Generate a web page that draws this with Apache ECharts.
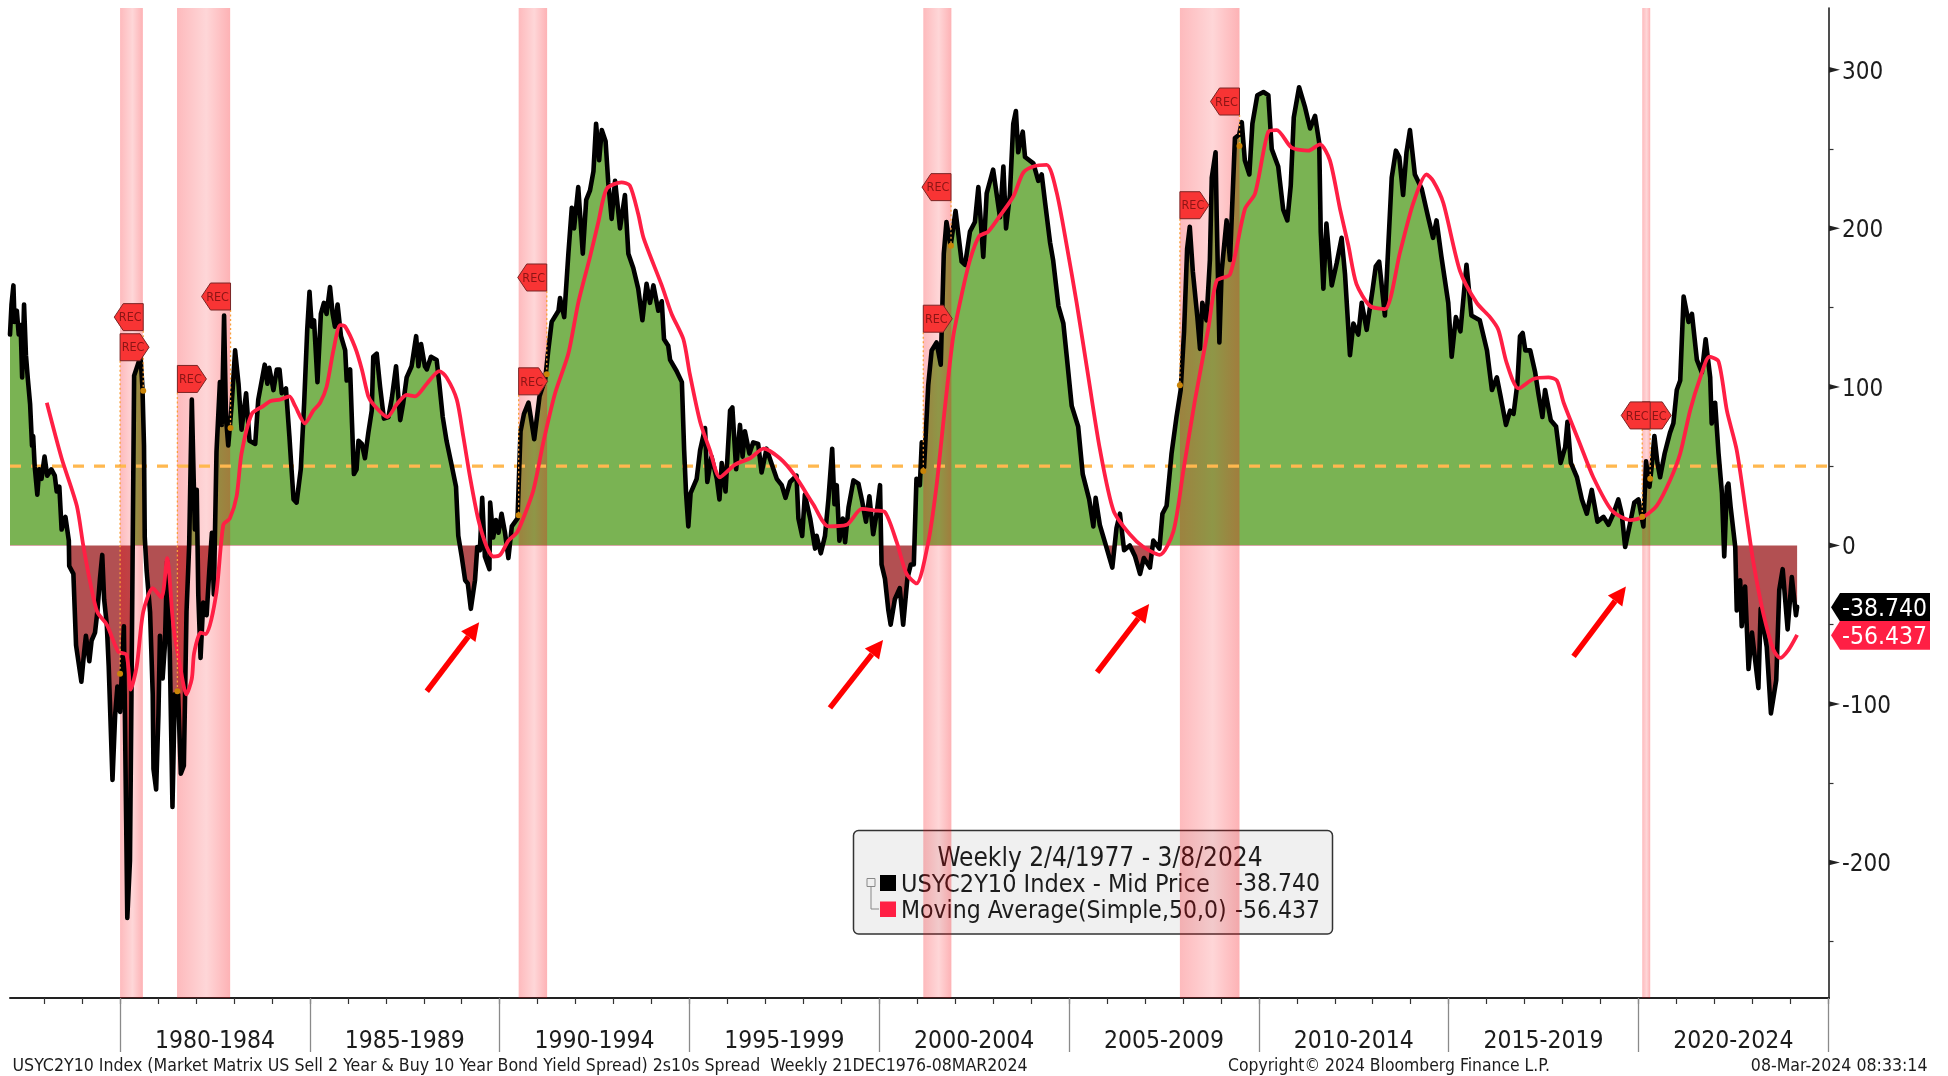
<!DOCTYPE html>
<html><head><meta charset="utf-8">
<style>html,body{margin:0;padding:0;background:#fff}#c{width:1948px;height:1076px}</style>
<script src="https://cdn.jsdelivr.net/npm/echarts@6/dist/echarts.min.js"></script>
</head><body><div id="c"></div>
<script>
const FONT='"DejaVu Sans Condensed","DejaVu Sans",sans-serif';
// [year, bp]
const spreadPoints=[[1977.10,133],[1977.14,152],[1977.19,164],[1977.22,141],[1977.28,148],[1977.33,133],[1977.38,139],[1977.42,106],[1977.47,152],[1977.52,120],[1977.57,105],[1977.63,89],[1977.68,63],[1977.71,69],[1977.75,50],[1977.82,32],[1977.87,48],[1977.93,42],[1978.01,56],[1978.08,44],[1978.19,48],[1978.28,44],[1978.33,34],[1978.40,37],[1978.46,10],[1978.56,18],[1978.65,3],[1978.66,-13],[1978.77,-18],[1978.84,-63],[1978.98,-86],[1979.05,-68],[1979.10,-57],[1979.19,-73],[1979.25,-60],[1979.34,-55],[1979.40,-42],[1979.47,-21],[1979.53,-6],[1979.58,-34],[1979.65,-50],[1979.70,-76],[1979.80,-148],[1979.87,-107],[1979.93,-89],[1980.00,-105],[1980.05,-106],[1980.10,-51],[1980.16,-173],[1980.19,-235],[1980.26,-199],[1980.30,-94],[1980.37,107],[1980.48,115],[1980.54,119],[1980.59,99],[1980.63,63],[1980.65,5],[1980.70,-16],[1980.79,-42],[1980.86,-94],[1980.88,-141],[1980.95,-154],[1981.01,-107],[1981.05,-57],[1981.12,-84],[1981.18,-63],[1981.24,-10],[1981.31,-68],[1981.38,-165],[1981.44,-94],[1981.53,-94],[1981.60,-144],[1981.68,-139],[1981.75,-42],[1981.82,0],[1981.89,92],[1981.93,93],[1981.97,10],[1982.02,35],[1982.06,-31],[1982.12,-71],[1982.19,-36],[1982.28,-44],[1982.35,-16],[1982.42,8],[1982.47,-31],[1982.54,59],[1982.63,103],[1982.68,76],[1982.74,145],[1982.79,81],[1982.85,63],[1982.94,89],
[1983.03,123],[1983.12,102],[1983.20,73],[1983.32,96],[1983.41,66],[1983.56,64],[1983.64,92],[1983.81,114],[1983.88,102],[1983.93,112],[1984.04,98],[1984.13,111],[1984.20,111],[1984.26,96],[1984.37,99],[1984.46,69],[1984.50,54],[1984.57,29],[1984.65,27],[1984.76,48],[1984.85,90],[1984.93,136],[1984.99,160],[1985.05,138],[1985.11,142],[1985.20,103],[1985.29,146],[1985.37,153],[1985.44,146],[1985.53,163],[1985.60,146],[1985.66,138],[1985.73,152],[1985.82,132],[1985.93,123],[1985.97,104],[1986.06,111],[1986.11,77],[1986.16,45],[1986.23,48],[1986.28,66],[1986.37,64],[1986.45,55],[1986.54,71],[1986.63,85],[1986.67,119],[1986.76,121],[1986.85,100],[1986.95,80],[1987.07,81],[1987.16,93],[1987.27,113],[1987.38,79],[1987.46,90],[1987.55,106],[1987.68,113],[1987.80,132],[1987.86,113],[1987.93,127],[1988.03,113],[1988.08,111],[1988.19,119],[1988.34,117],[1988.41,102],[1988.50,81],[1988.60,66],[1988.74,50],[1988.85,37],[1988.91,6],[1989.00,-7],[1989.09,-22],[1989.16,-24],[1989.24,-40],[1989.35,-22],[1989.41,-1],[1989.48,-3],[1989.54,30],[1989.61,-7],[1989.73,-15],[1989.75,27],[1989.83,5],[1989.90,16],[1989.97,8],[1990.05,20],[1990.14,8],[1990.23,-8],[1990.32,12],[1990.47,17],
[1990.55,72],[1990.64,83],[1990.76,90],[1990.91,67],[1991.05,94],[1991.20,105],[1991.28,123],[1991.37,141],[1991.55,148],[1991.59,156],[1991.70,144],[1991.81,184],[1991.90,213],[1991.96,200],[1992.07,226],[1992.19,184],[1992.28,218],[1992.38,224],[1992.47,236],[1992.54,266],[1992.62,243],[1992.69,262],[1992.79,255],[1992.86,229],[1992.95,206],[1993.04,230],[1993.17,200],[1993.30,221],[1993.39,184],[1993.52,175],[1993.65,162],[1993.76,142],[1993.87,165],[1993.96,153],[1994.05,164],[1994.18,148],[1994.27,154],[1994.33,130],[1994.44,126],[1994.49,117],[1994.66,110],[1994.80,103],[1994.86,60],[1994.91,33],[1994.97,12],[1995.03,33],[1995.19,42],[1995.28,60],[1995.41,74],[1995.47,40],[1995.58,56],[1995.72,42],[1995.79,29],[1995.85,52],[1995.95,34],[1996.07,85],[1996.13,87],[1996.23,48],[1996.33,76],[1996.40,56],[1996.46,72],[1996.58,58],[1996.68,65],[1996.81,64],[1996.90,46],[1997.03,61],[1997.17,51],[1997.30,42],[1997.43,38],[1997.53,30],[1997.65,40],[1997.82,44],[1997.87,17],[1997.97,6],[1998.04,32],[1998.18,17],[1998.31,-2],[1998.35,6],[1998.46,-5],[1998.57,6],[1998.66,29],[1998.76,61],[1998.82,26],[1998.88,38],[1998.95,3],[1999.04,17],[1999.10,2],[1999.19,24],[1999.32,41],[1999.45,39],[1999.54,29],[1999.65,15],[1999.74,31],[1999.84,7],[1999.93,20],[2000.02,38],[2000.06,-12],[2000.15,-21],[2000.24,-41],[2000.30,-50],[2000.41,-34],[2000.54,-27],[2000.63,-50],[2000.74,-21],[2000.83,-12],[2000.91,-12],[2000.98,42],[2001.07,38],[2001.12,65],[2001.18,49],[2001.29,101],[2001.38,123],[2001.51,128],[2001.62,114],[2001.70,184],[2001.77,204],[2001.88,189],[2002.01,211],[2002.17,179],[2002.26,177],[2002.39,198],[2002.52,204],[2002.61,226],[2002.74,182],[2002.83,222],[2003.00,237],
[2003.18,207],[2003.27,239],[2003.34,200],[2003.44,221],[2003.53,266],[2003.60,274],[2003.66,248],[2003.78,261],[2003.84,245],[2004.06,241],[2004.19,230],[2004.28,234],[2004.37,216],[2004.50,191],[2004.58,180],[2004.72,151],[2004.85,140],[2004.94,119],[2005.07,88],[2005.24,75],[2005.36,45],[2005.53,29],[2005.64,12],[2005.70,30],[2005.81,13],[2005.97,0],[2006.14,-14],[2006.25,11],[2006.34,20],[2006.45,-3],[2006.60,0],[2006.74,-7],[2006.87,-18],[2006.97,-8],[2007.13,-14],[2007.22,3],[2007.38,-2],[2007.46,20],[2007.57,25],[2007.70,58],[2007.83,81],[2007.94,98],[2008.03,135],[2008.11,187],[2008.18,201],[2008.26,173],[2008.38,144],[2008.45,124],[2008.51,153],[2008.62,142],[2008.71,180],[2008.76,232],[2008.86,248],[2008.89,207],[2008.96,128],[2009.02,173],[2009.15,205],[2009.24,180],[2009.37,257],[2009.48,259],[2009.55,267],[2009.63,243],[2009.75,234],[2009.83,266],[2009.96,284],[2010.12,286],[2010.25,284],[2010.34,250],[2010.51,239],[2010.64,212],[2010.75,205],[2010.84,227],[2010.92,270],[2011.06,289],[2011.21,277],[2011.35,263],[2011.48,271],[2011.59,254],[2011.63,198],[2011.70,162],[2011.78,203],[2011.92,164],[2012.05,178],[2012.18,194],[2012.27,171],[2012.40,120],[2012.49,140],[2012.62,133],[2012.71,153],[2012.84,136],[2013.00,162],[2013.08,176],[2013.17,179],[2013.32,145],[2013.41,189],[2013.50,232],[2013.61,249],[2013.70,245],[2013.80,221],[2013.89,248],[2013.98,262],[2014.11,234],[2014.29,225],[2014.46,207],[2014.59,194],[2014.68,205],[2014.81,182],[2014.99,153],[2015.08,119],[2015.19,144],[2015.31,135],[2015.47,177],[2015.60,145],[2015.82,142],
[2016.01,123],[2016.14,98],[2016.27,106],[2016.36,95],[2016.51,76],[2016.62,85],[2016.71,83],[2016.81,102],[2016.88,132],[2016.95,134],[2017.02,123],[2017.15,123],[2017.28,109],[2017.37,95],[2017.47,81],[2017.54,98],[2017.69,79],[2017.83,75],[2017.95,52],[2018.07,62],[2018.13,78],[2018.22,52],[2018.38,43],[2018.51,29],[2018.64,20],[2018.77,35],[2018.92,15],[2019.08,18],[2019.21,13],[2019.34,20],[2019.47,29],[2019.56,20],[2019.65,-1],[2019.78,14],[2019.89,27],[2020.00,29],[2020.13,12],[2020.20,53],[2020.29,37],[2020.35,50],[2020.42,69],[2020.50,52],[2020.57,43],[2020.69,58],[2020.83,71],[2020.92,77],[2021.01,98],[2021.10,104],[2021.19,157],[2021.32,141],[2021.41,146],[2021.54,117],[2021.67,109],[2021.77,130],[2021.89,106],[2021.93,77],[2022.02,90],[2022.11,58],[2022.20,33],[2022.26,-7],[2022.33,37],[2022.37,39],[2022.43,24],[2022.55,-1],[2022.59,-41],[2022.68,-22],[2022.72,-51],[2022.81,-26],[2022.90,-78],[2022.99,-55],[2023.16,-90],[2023.22,-40],[2023.38,-64],[2023.49,-106],[2023.63,-85],[2023.71,-28],[2023.80,-15],[2023.93,-53],[2024.04,-20],[2024.15,-44],[2024.18,-38.74]];
const movingAverage=[[1978.07,90],[1978.46,55],[1978.86,25],[1979.03,0],[1979.21,-23],[1979.40,-42],[1979.65,-50],[1979.95,-67],[1980.17,-69],[1980.28,-91],[1980.44,-76],[1980.61,-42],[1980.86,-27],[1981.09,-33],[1981.24,-8],[1981.40,-50],[1981.58,-76],[1981.75,-94],[1981.89,-84],[1981.95,-68],[1982.12,-55],[1982.26,-56],[1982.53,-31],[1982.72,13],[1982.89,17],[1983.07,31],[1983.20,58],[1983.47,83],[1983.78,88],[1983.95,91],[1984.21,92],[1984.46,94],[1984.61,88],[1984.87,77],[1985.09,85],[1985.27,90],[1985.44,100],[1985.62,123],[1985.80,139],[1985.93,138],[1986.19,125],[1986.37,111],[1986.54,94],[1986.67,89],[1987.04,81],[1987.29,89],[1987.55,95],[1987.77,94],[1988.08,102],[1988.41,110],[1988.60,106],[1988.87,92],[1989.04,69],[1989.22,43],[1989.44,16],[1989.66,-1],[1989.83,-7],[1990.01,-6],[1990.23,3],[1990.45,8],[1990.62,17],[1990.89,35],[1991.15,65],[1991.46,96],[1991.81,121],[1992.07,153],[1992.38,182],[1992.60,204],[1992.82,225],[1993.21,229],[1993.43,227],[1993.65,209],[1993.79,194],[1994.27,164],[1994.53,146],[1994.84,130],[1995.01,108],[1995.28,78],[1995.54,60],[1995.80,43],[1996.20,51],[1996.60,55],[1996.95,61],[1997.38,55],[1997.78,44],[1998.26,26],[1998.66,12],[1999.14,13],[1999.54,23],[1999.89,22],[2000.15,21],[2000.46,2],[2000.72,-18],[2000.98,-24],[2001.29,2],[2001.51,38],[2001.73,87],[2001.95,132],[2002.17,158],[2002.39,180],[2002.63,195],[2002.87,198],[2003.18,208],[2003.53,220],[2003.79,235],[2004.06,239],[2004.41,240],[2004.67,223],[2004.94,189],[2005.20,153],[2005.51,106],[2005.81,61],[2006.17,22],[2006.60,7],[2006.96,-1],[2007.39,-6],[2007.75,9],[2008.01,47],[2008.32,92],[2008.67,137],[2008.89,167],[2009.24,171],[2009.63,212],[2009.90,222],[2010.25,261],[2010.47,262],[2010.86,251],[2011.30,249],[2011.61,253],[2011.87,243],[2012.14,212],[2012.36,189],[2012.57,165],[2012.93,151],[2013.32,149],[2013.72,185],[2014.07,216],[2014.42,234],[2014.59,230],[2014.86,216],[2015.30,173],[2015.74,153],[2016.09,144],[2016.31,136],[2016.53,115],[2016.84,99],[2017.23,105],[2017.63,106],[2017.85,104],[2018.03,90],[2018.46,64],[2018.81,43],[2019.30,22],[2019.78,16],[2020.13,18],[2020.48,25],[2020.83,41],[2021.10,58],[2021.36,85],[2021.63,106],[2021.87,119],[2022.11,116],[2022.33,85],[2022.59,60],[2022.85,18],[2023.03,-11],[2023.29,-43],[2023.56,-66],[2023.73,-71],[2023.95,-66],[2024.18,-56.437]];
const recessions=[[1980.0,1980.6],[1981.5,1982.9],[1990.5,1991.25],[2001.16,2001.9],[2007.92,2009.49],[2020.1,2020.31]];
// [year, flag level, point on the line, direction (-1 left, 1 right)]
const recFlags=[[1980.61,144,97.5,-1],[1980.0,125,-81,1],[1981.51,105,-92,1],[1982.91,157,74,-1],[1991.24,169,108,-1],[1990.5,103.5,19,1],[2001.89,226,189,-1],[2001.16,143,47,1],[2009.49,280,252,-1],[2007.92,214.6,101,1],[2020.1,82,18,1],[2020.31,82,42,-1]];
// [tail year, tail level, tip year, tip level]
const arrows=[[1988.08,-92,1989.46,-48.5],[1998.70,-102.5,2000.10,-59.6],[2005.74,-80,2007.11,-37],[2018.29,-70,2019.67,-26]];
const yearTicks=[1978,1979,1980,1981,1982,1983,1984,1985,1986,1987,1988,1989,1990,1991,1992,1993,1994,1995,1996,1997,1998,1999,2000,2001,2002,2003,2004,2005,2006,2007,2008,2009,2010,2011,2012,2013,2014,2015,2016,2017,2018,2019,2020,2021,2022,2023,2024,2025];
const periodTicks=[1980,1985,1990,1995,2000,2005,2010,2015,2020,2025];
const periodLabels=['1980-1984','1985-1989','1990-1994','1995-1999','2000-2004','2005-2009','2010-2014','2015-2019','2020-2024'];
const yLabels=[300,200,100,0,-100,-200];
const yMinor=[250,150,50,-50,-150,-250];
const refLevel=50;
const lastValues=[[-38.74,'-38.740','#000000'],[-56.437,'-56.437','#FF1F44']];
const XMIN=1977.1,XMAX=2025.02,YMIN=-285.5,YMAX=339;

const vals=spreadPoints.map(p=>p[1]);
const hi=Math.max(...vals),lo=Math.min(...vals),cut=hi/(hi-lo);
const GREEN='#7AB353',BROWN='#B25052';
const chart=echarts.init(document.getElementById('c'),null,{renderer:'canvas'});
const xCommon={type:'value',min:XMIN,max:XMAX,position:'bottom',splitLine:{show:false}};
const txt=(x,y,t,size,extra)=>({type:'text',x,y,silent:true,style:Object.assign({text:t,fill:'#1c1c1c',font:size+'px '+FONT,verticalAlign:'middle',align:'left'},extra||{})});
chart.setOption({
 animation:false,backgroundColor:'#fff',tooltip:{show:false},
 grid:{left:10,right:119,top:8,bottom:78,containLabel:false},
 xAxis:[
  Object.assign({},xCommon,{axisLine:{show:true,onZero:false,lineStyle:{color:'#222',width:2}},axisLabel:{show:false},axisTick:{show:true,length:6,customValues:yearTicks,lineStyle:{color:'#333',width:1.2}}}),
  Object.assign({},xCommon,{axisLine:{show:false,onZero:false},axisLabel:{show:false},axisTick:{show:true,length:54,customValues:periodTicks,lineStyle:{color:'#8a8a8a',width:1.3}}}),
  Object.assign({},xCommon,{axisLine:{show:false,onZero:false},axisTick:{show:false},axisLabel:{show:true,margin:31,color:'#1c1c1c',fontFamily:FONT,fontSize:24.5,customValues:periodTicks.slice(0,-1).map(y=>y+2.5),
    formatter:v=>periodLabels[Math.round((v-1982.5)/5)]}})
 ],
 yAxis:{type:'value',min:YMIN,max:YMAX,position:'right',splitLine:{show:false},
  axisLine:{show:true,lineStyle:{color:'#222',width:1.6}},
  axisTick:{show:true,length:4.5,customValues:yMinor,lineStyle:{color:'#333',width:1.2}},
  axisLabel:{show:true,margin:13,color:'#1c1c1c',customValues:yLabels,formatter:v=>'{a|'+Math.round(v)+'}',
   rich:{a:{fontFamily:FONT,fontSize:24,color:'#1c1c1c',padding:[5,0,0,0]}}}},
 graphic:[
  {type:'rect',z:0,silent:true,shape:{x:853.5,y:830.5,width:479,height:103.5,r:5},style:{fill:'#F0F0F0',stroke:'#333',lineWidth:1.5}},
  {type:'group',z:100,silent:true,children:[
   txt(1100,859,'Weekly 2/4/1977 - 3/8/2024',26,{align:'center'}),
   {type:'rect',shape:{x:880,y:875,width:16,height:16},style:{fill:'#000'}},
   {type:'rect',shape:{x:880,y:901.5,width:16,height:15.5},style:{fill:'#FF1F44'}},
   {type:'rect',shape:{x:867,y:878.5,width:8,height:8},style:{fill:'#F0F0F0',stroke:'#888',lineWidth:1}},
   {type:'line',shape:{x1:871,y1:887,x2:871,y2:909},style:{stroke:'#888',lineWidth:1}},
   {type:'line',shape:{x1:871,y1:909,x2:879,y2:909},style:{stroke:'#888',lineWidth:1}},
   txt(901,885,'USYC2Y10 Index - Mid Price',25),
   txt(901,912,'Moving Average(Simple,50,0)',24.5),
   txt(1320,885,'-38.740',24.5,{align:'right'}),
   txt(1320,912,'-56.437',24.5,{align:'right'}),
   txt(12.5,1066,'USYC2Y10 Index (Market Matrix US Sell 2 Year & Buy 10 Year Bond Yield Spread) 2s10s Spread  Weekly 21DEC1976-08MAR2024',17.6),
   txt(1228,1066,'Copyright\u00A9 2024 Bloomberg Finance L.P.',17.4),
   txt(1927.5,1066,'08-Mar-2024 08:33:14',17.6,{align:'right'})
  ]}
 ],
 series:[
  {name:'fill',type:'line',z:1,data:spreadPoints,showSymbol:false,silent:true,lineStyle:{width:0,opacity:0},
   areaStyle:{origin:0,opacity:1,color:new echarts.graphic.LinearGradient(0,0,0,1,[{offset:0,color:GREEN},{offset:cut,color:GREEN},{offset:cut,color:BROWN},{offset:1,color:BROWN}])}},
  {name:'recessions',type:'custom',z:2,silent:true,data:recessions,
   renderItem(p,api){
    const a=api.coord([api.value(0),0])[0],b=api.coord([api.value(1),0])[0],cs=p.coordSys;
    return {type:'rect',shape:{x:a,y:cs.y,width:b-a,height:cs.height},style:{fill:new echarts.graphic.LinearGradient(0,0,1,0,[{offset:0,color:'rgba(250,0,10,0.27)'},{offset:.55,color:'rgba(250,0,10,0.16)'},{offset:1,color:'rgba(250,0,10,0.3)'}])}};
   }},
  {name:'50',type:'line',z:3,silent:true,showSymbol:false,data:[[XMIN,refLevel],[XMAX,refLevel]],lineStyle:{color:'#FFB84F',width:3.4,type:[11,10]}},
  {name:'USYC2Y10 Index - Mid Price',type:'line',z:4,silent:true,showSymbol:false,data:spreadPoints,lineStyle:{color:'#000',width:4.6,join:'round',cap:'round'}},
  {name:'Moving Average(Simple,50,0)',type:'line',z:5,silent:true,showSymbol:false,smooth:0.25,data:movingAverage,lineStyle:{color:'#FF1F44',width:3.8,join:'round'}},
  {name:'rec',type:'custom',z:6,silent:true,data:recFlags.map((r,i)=>[r[0],r[1],r[2],r[3],i]),
   renderItem(p,api){
    const r=recFlags[p.dataIndex],f=api.coord([r[0],r[1]]),d=api.coord([r[0],r[2]]),dir=r[3],w=29,h=27,n=9,x=f[0],y=f[1];
    return {type:'group',children:[
     {type:'line',shape:{x1:x,y1:y+h/2,x2:d[0],y2:d[1]},style:{stroke:'#F9A03A',lineWidth:1.3,lineDash:[2,2.5]}},
     {type:'circle',shape:{cx:d[0],cy:d[1],r:3},style:{fill:'#C98408'}},
     {type:'polygon',shape:{points:[[x,y-h/2],[x+dir*(w-n),y-h/2],[x+dir*w,y],[x+dir*(w-n),y+h/2],[x,y+h/2]]},style:{fill:'#F83434',stroke:'#7A2525',lineWidth:1}},
     {type:'text',x:x+dir*13,y:y+1,style:{text:'REC',fill:'#8C1515',font:'12.5px '+FONT,align:'center',verticalAlign:'middle'}}
    ]};
   }},
  {name:'arrows',type:'custom',z:7,silent:true,data:arrows,
   renderItem(p,api){
    const r=arrows[p.dataIndex],a=api.coord([r[0],r[1]]),b=api.coord([r[2],r[3]]);
    const dx=b[0]-a[0],dy=b[1]-a[1],L=Math.hypot(dx,dy),ux=dx/L,uy=dy/L,hl=18,hw=9;
    const bx=b[0]-ux*hl,by=b[1]-uy*hl;
    return {type:'group',children:[
     {type:'line',shape:{x1:a[0],y1:a[1],x2:bx,y2:by},style:{stroke:'#FF0000',lineWidth:5.5}},
     {type:'polygon',shape:{points:[[b[0],b[1]],[bx-uy*hw,by+ux*hw],[bx+uy*hw,by-ux*hw]]},style:{fill:'#FF0000'}}
    ]};
   }},
  {name:'ticks',type:'custom',z:8,silent:true,data:yLabels.map(v=>[XMAX,v]),
   renderItem(p,api){
    const c=api.coord([api.value(0),api.value(1)]);
    return {type:'polygon',shape:{points:[[c[0],c[1]-2.8],[c[0]+11,c[1]],[c[0],c[1]+2.8]]},style:{fill:'#222'}};
   }},
  {name:'last',type:'custom',z:9,silent:true,data:lastValues.map(v=>[XMAX,v[0]]),
   renderItem(p,api){
    const v=lastValues[p.dataIndex],c=api.coord([XMAX,v[0]]),x=c[0]+2,y=c[1]+0.5,h=14.3;
    return {type:'group',children:[
     {type:'polygon',shape:{points:[[x,y],[x+9,y-h],[x+99,y-h],[x+99,y+h],[x+9,y+h]]},style:{fill:v[2]}},
     {type:'text',x:x+96,y:y+2,style:{text:v[1],fill:'#fff',font:'24.5px '+FONT,align:'right',verticalAlign:'middle'}}
    ]};
   }}
 ]
});
</script></body></html>
